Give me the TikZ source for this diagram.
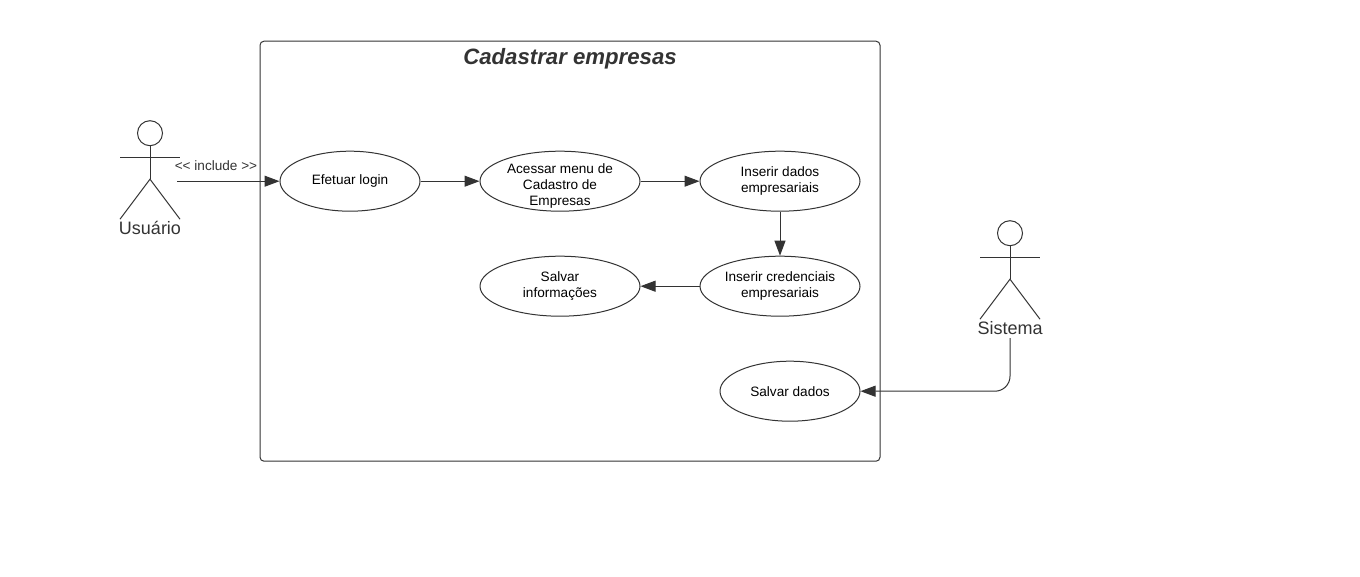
\documentclass[tikz,border=0pt]{standalone}
\usepackage{fontspec}
\setmainfont{Liberation Sans}
\usetikzlibrary{arrows.meta}
\usetikzlibrary{shapes.geometric}
\definecolor{linecol}{HTML}{333333}
\tikzset{
  usecase/.style={ellipse, draw=linecol, minimum height=60pt, inner sep=0pt, align=center,
    font=\fontsize{13.6}{16}\selectfont},
  casetext/.style={inner sep=0pt, align=center, font=\fontsize{13.6}{16}\selectfont},
  actorname/.style={text=linecol, inner sep=0pt, font=\fontsize{18}{20}\selectfont},
  flow/.style={draw=linecol, -{Triangle[length=15pt,width=11pt,fill=linecol]}},
  stick/.style={draw=linecol}
}
\begin{document}
\begin{tikzpicture}[x=1pt, y=-1pt, line width=1pt]
      \useasboundingbox (0,-0.2) rectangle (1360,576.8);
      % system boundary
      \node [draw=linecol, rounded corners=4pt, minimum width=620pt, minimum height=420pt, inner sep=0pt] (frame) at (570,251) {};
      \node [text=linecol, inner sep=0pt, font=\fontsize{22.2}{24}\selectfont\bfseries\itshape] (title) at (570,58.5) {Cadastrar empresas};
      % use cases
      \node [usecase, minimum width=140pt] (login) at (350,181) {Efetuar login};
      \node [usecase, minimum width=160pt] (menu)  at (560,181) {};
      \node [casetext] (menutext) at (560,185.5) {Acessar menu de\\Cadastro de\\Empresas};
      \node [usecase, minimum width=160pt] (dados) at (780,181) {Inserir dados\\empresariais};
      \node [usecase, minimum width=160pt] (cred)  at (780,286) {Inserir credenciais\\empresariais};
      \node [usecase, minimum width=160pt] (info)  at (560,286) {Salvar\\informações};
      \node [usecase, minimum width=140pt] (salvar) at (790,391) {Salvar dados};
      % actor on the left
      \node [circle, stick, minimum size=25pt, inner sep=0pt] (uhead) at (150,133) {};
      \coordinate (uhip)  at (150,179);
      \coordinate (uarml) at (120,157);
      \coordinate (uarmr) at (180,157);
      \coordinate (ulegl) at (120,219);
      \coordinate (ulegr) at (180,219);
      \node [actorname] (uname) at (150,227.5) {Usuário};
      \draw [stick] (uhead) -- (uhip);
      \draw [stick] (uarml) -- (uarmr);
      \draw [stick] (ulegl) -- (uhip) -- (ulegr);
      % actor on the right
      \node [circle, stick, minimum size=25pt, inner sep=0pt] (shead) at (1010,233) {};
      \coordinate (ship)  at (1010,279);
      \coordinate (sarml) at (980,257);
      \coordinate (sarmr) at (1040,257);
      \coordinate (slegl) at (980,319);
      \coordinate (slegr) at (1040,319);
      \node [actorname] (sname) at (1010,327.5) {Sistema};
      \draw [stick] (shead) -- (ship);
      \draw [stick] (sarml) -- (sarmr);
      \draw [stick] (slegl) -- (ship) -- (slegr);
      % connectors
      \coordinate (ustart) at (177,181);
      \coordinate (sstart) at (1010,338);
      \node [text=linecol, inner sep=0pt, font=\fontsize{13.6}{16}\selectfont] (incl) at (216,165.5) {<{}< include >{}>};
      \draw [flow] (ustart) -- (login.west);
      \draw [flow] (login.east) -- (menu.west);
      \draw [flow] (menu.east) -- (dados.west);
      \draw [flow] (dados.south) -- (cred.north);
      \draw [flow] (cred.west) -- (info.east);
      \draw [flow, rounded corners=15pt] (sstart) |- (salvar.east);
      \end{tikzpicture}
\end{document}
